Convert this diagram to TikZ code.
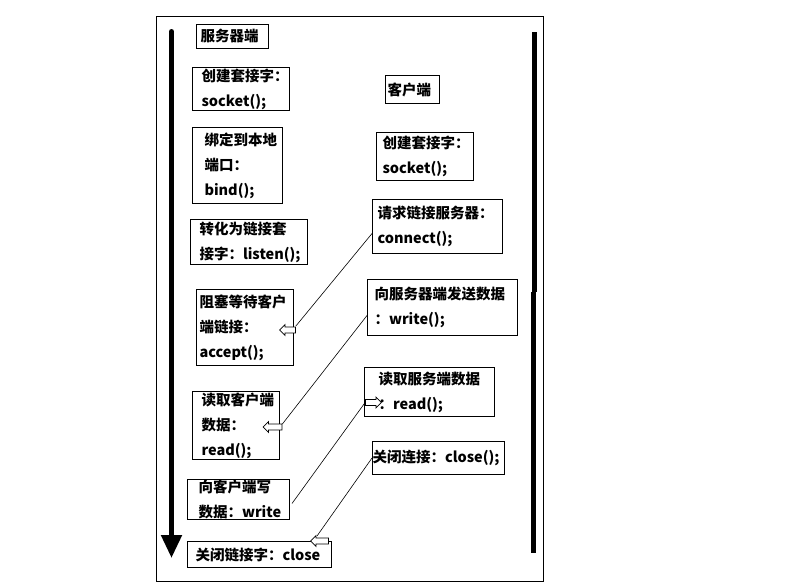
\documentclass[tikz,border=0pt]{standalone}
\usepackage{fontspec}
\setmainfont{Noto Sans CJK SC}
\usetikzlibrary{arrows.meta,shapes.arrows}
\tikzset{
  bx/.style={draw, line width=1pt, align=left, anchor=north west, inner ysep=0pt,
    font=\bfseries\fontsize{14.5}{25}\selectfont},
  harrow/.style={single arrow, draw, fill=white, line width=0.7pt, minimum height=#1,
    text height=2.6pt, text depth=2.6pt, text width=0pt, minimum width=10.5pt,
    single arrow head extend=2.6pt, single arrow head indent=0pt, inner sep=0pt},
  conn/.style={line width=0.6pt},
  thick line/.style={line width=5pt},
}
\begin{document}
\begin{tikzpicture}[x=1pt,y=-1pt]
\useasboundingbox (0,0) rectangle (811,584);
\draw[line width=1pt] (156.5,16) rectangle (543,581);
% thick timelines
\draw[thick line, line cap=round, -{Triangle[width=20pt,length=23pt]}] (171.5,31.5) -- (171.5,558);
\draw[line width=4.5pt] (534.5,32) -- (534.5,292);
\draw[line width=4.5pt] (533.3,292) -- (533.3,553);
% server side
\node[bx, minimum width=72pt, minimum height=24pt, inner xsep=4pt, text width=64pt] (sh) at (196,24) {服务器端};
\node[bx, minimum width=97pt, minimum height=43pt, inner xsep=9pt, text width=79pt] (ss) at (192,67) {创建套接字：\\socket();};
\node[bx, minimum width=90pt, minimum height=76pt, inner xsep=12pt, text width=66pt] (sb) at (192,127) {绑定到本地\\端口：\\bind();};
\node[bx, minimum width=117pt, minimum height=45pt, inner xsep=9pt, text width=99pt] (sl) at (190,219) {转化为链接套\\接字：listen();};
\node[bx, minimum width=97pt, minimum height=76pt, inner xsep=3pt, text width=91pt] (sa) at (196,289) {阻塞等待客户\\端链接：\\accept();};
\node[bx, minimum width=87pt, minimum height=68pt, inner xsep=9pt, text width=69pt] (sr) at (192,391) {读取客户端\\数据：\\read();};
\node[bx, minimum width=102pt, minimum height=40pt, inner xsep=11pt, text width=80pt] (sw) at (187,479) {向客户端写\\数据：write};
\node[bx, minimum width=144pt, minimum height=26pt, inner xsep=8pt, text width=128pt] (sc) at (187,541) {关闭链接字：close};
% client side
\node[bx, minimum width=54pt, minimum height=28pt, inner xsep=2pt, text width=50pt] (ch) at (385,75) {客户端};
\node[bx, minimum width=97pt, minimum height=48pt, inner xsep=6pt, text width=85pt] (cs) at (376,132) {创建套接字：\\socket();};
\node[bx, minimum width=130pt, minimum height=54pt, inner xsep=5pt, text width=120pt] (cn) at (372,199) {请求链接服务器：\\connect();};
\node[bx, minimum width=150pt, minimum height=56pt, inner xsep=7pt, text width=136pt] (cw) at (367,279) {向服务器端发送数据\\：write();};
\node[bx, minimum width=130pt, minimum height=49pt, inner xsep=14pt, text width=102pt] (cr) at (364,367) {读取服务端数据\\：read();};
\node[bx, minimum width=132pt, minimum height=33pt, inner xsep=0pt, text width=132pt] (cc) at (372,441) {关闭连接：close();};
% hollow block arrows
\node[harrow=16pt, shape border rotate=180] (a1) at (289,330) {};
\node[harrow=19pt, shape border rotate=180] (a2) at (274,427) {};
\node[harrow=16pt] (a3) at (372,402.5) {};
\node[harrow=18pt, shape border rotate=180] (a4) at (321,541) {};
% connectors
\draw[conn] ([yshift=-7pt]cn.west) -- ([yshift=4pt]a1.tail);
\draw[conn] ([yshift=-8pt]cw.west) -- ([yshift=3pt]a2.tail);
\draw[conn] ([xshift=2pt,yshift=-4pt]sw.east) -- (a3.tail);
\draw[conn] (cc.west) -- ([xshift=-4pt,yshift=5pt]a4.center);
\end{tikzpicture}
\end{document}
